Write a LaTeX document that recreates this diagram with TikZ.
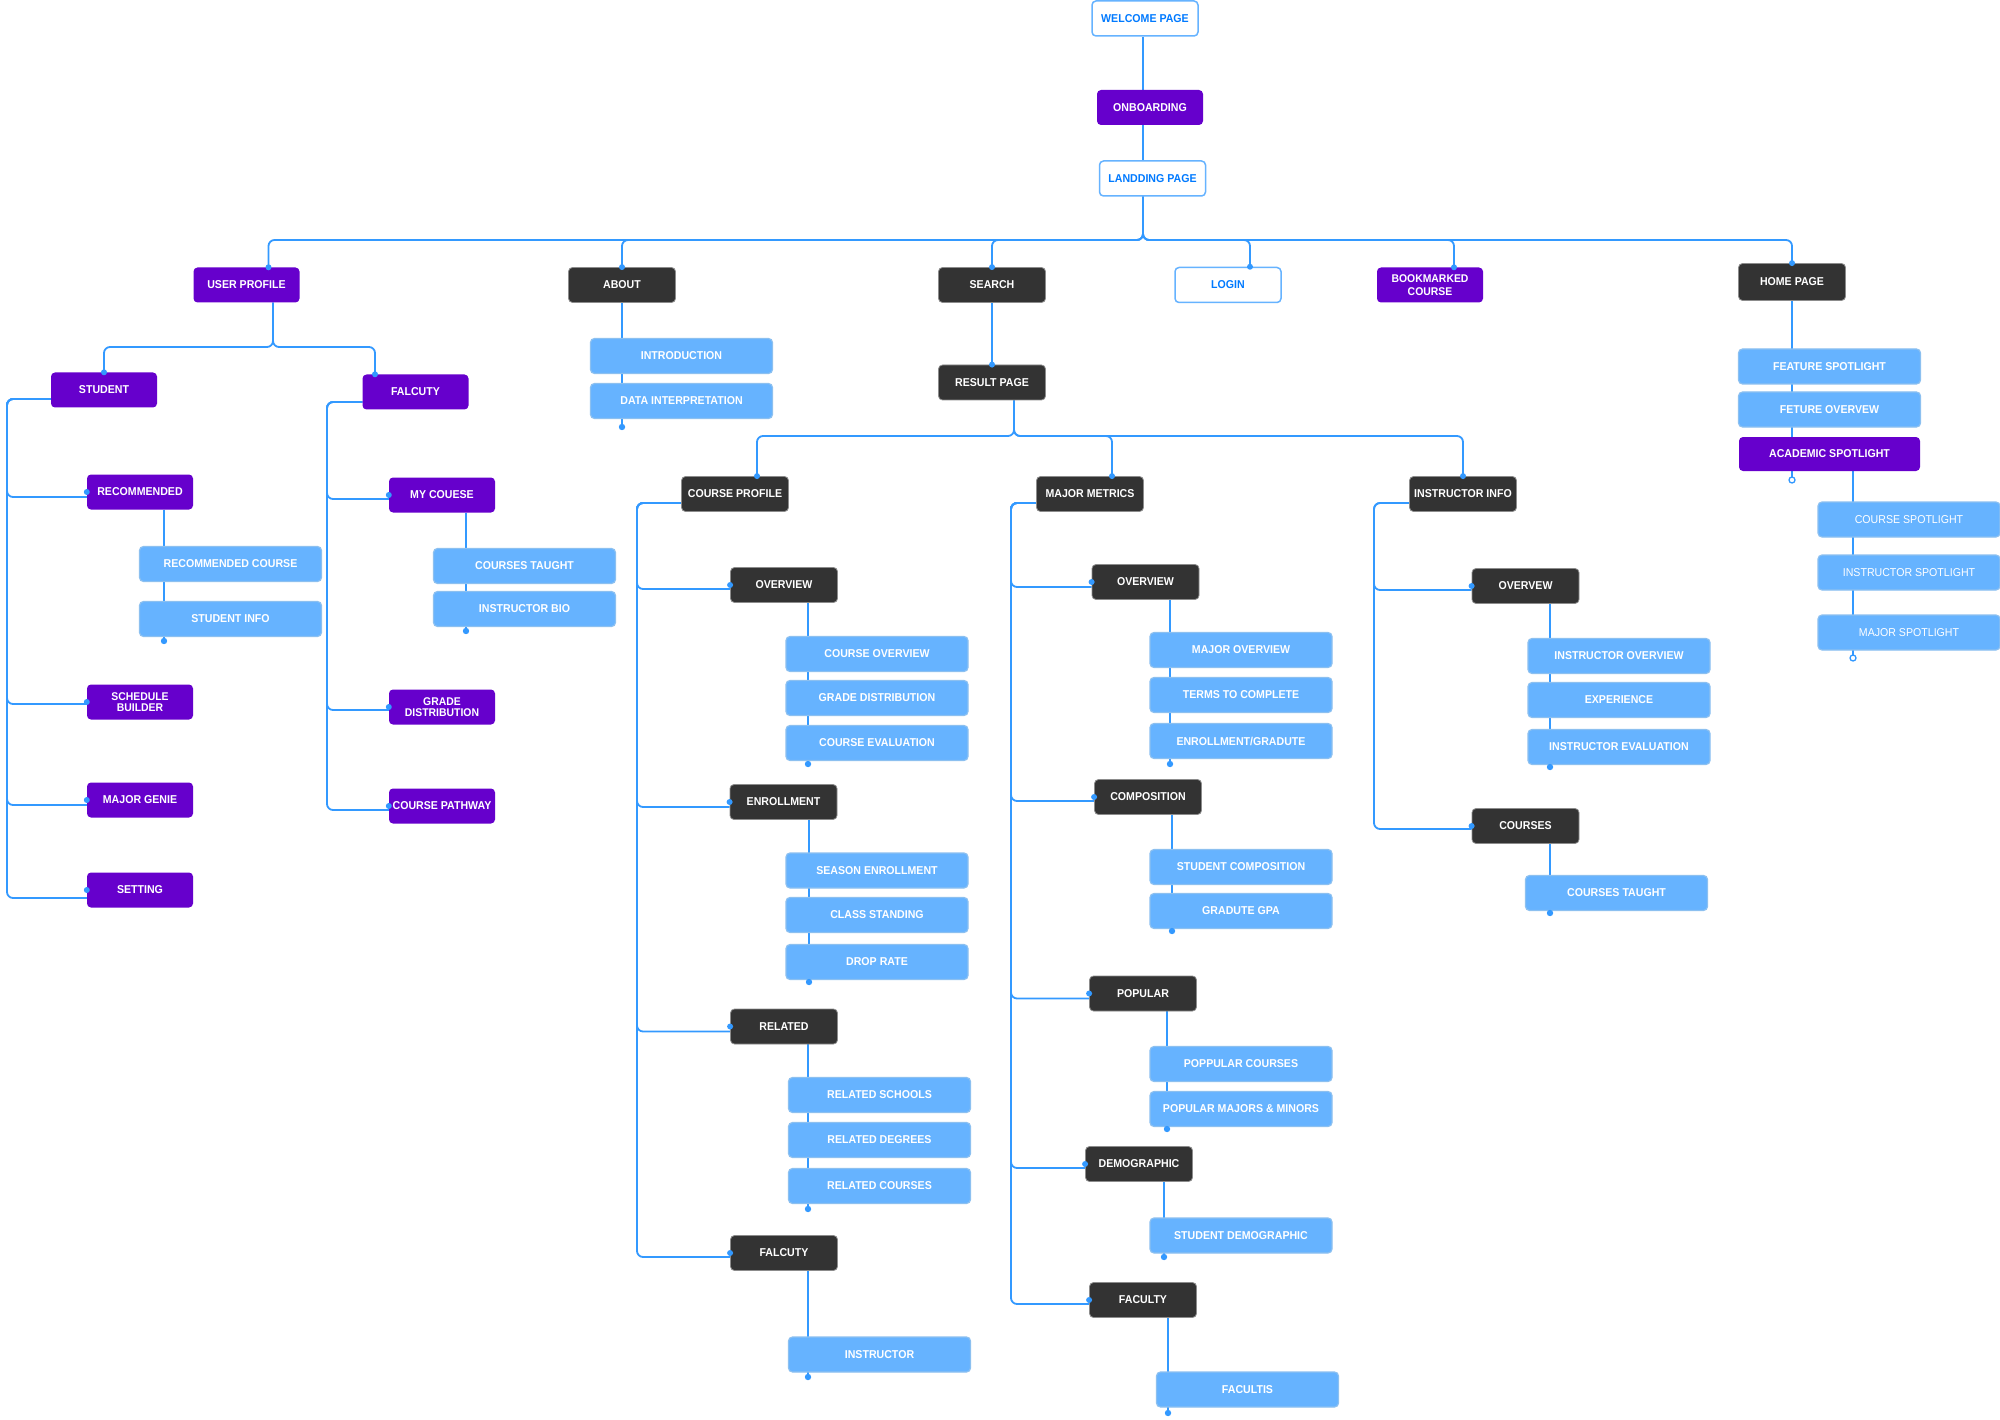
\documentclass[tikz,border=0pt]{standalone}
\usepackage{fontspec}
\setmainfont{Liberation Sans}[FakeStretch=0.93]
\usetikzlibrary{calc}
\pgfdeclarelayer{bg}
\pgfsetlayers{bg,main}
\definecolor{purp}{RGB}{102,0,204}
\definecolor{dk}{RGB}{51,51,51}
\definecolor{lbf}{RGB}{102,179,255}
\definecolor{lbd}{RGB}{140,192,240}
\definecolor{cl}{RGB}{51,153,255}
\definecolor{tb}{RGB}{0,122,255}
\begin{document}
\begin{tikzpicture}[x=1pt,y=-1pt,
 box/.style={rounded corners=4pt, minimum height=35pt, inner sep=0pt, align=center, font=\fontsize{11.4}{12}\selectfont\bfseries},
 pbox/.style={box, fill=purp, text=white, minimum width=106pt},
 dbox/.style={box, fill=dk, draw=black!45, line width=0.8pt, text=white, minimum width=107pt},
 wbox/.style={box, fill=white, draw=lbf, line width=1.5pt, text=tb, minimum width=106pt},
 lbox/.style={box, fill=lbf, draw=lbd, line width=1.2pt, text=white, minimum width=182pt},
 rbox/.style={lbox, font=\fontsize{11.4}{12}\selectfont},
 conn/.style={draw=cl, line width=1.8pt, rounded corners=6pt},
 odot/.style={draw=cl, line width=1.3pt, fill=white},
]
\path[use as bounding box] (0,0) rectangle (2000,1420);

% ---- top chain
\node[wbox] (welcome) at (1145,18.5) {WELCOME PAGE};
\node[pbox] (onboard) at (1150,107.5) {ONBOARDING};
\node[wbox] (landing) at (1152.5,178.5) {LANDDING PAGE};
\coordinate (tj) at (1143,240);

% ---- level 1
\node[pbox] (user) at (246.5,285) {USER PROFILE};
\node[dbox] (about) at (622,285) {ABOUT};
\node[dbox] (search) at (992,285) {SEARCH};
\node[wbox] (login) at (1228,285) {LOGIN};
\node[pbox, font=\fontsize{11.2}{12.5}\selectfont\bfseries] (bookm) at (1430,285) {BOOKMARKED\\COURSE};
\node[dbox, minimum height=37pt] (home) at (1792,282) {HOME PAGE};

% ---- user profile subtree
\node[pbox] (student) at (104,390) {STUDENT};
\node[pbox] (falc1) at (415.5,392) {FALCUTY};
\coordinate (uj) at (273,347);
\node[pbox] (recommended) at (140,492) {RECOMMENDED};
\node[lbox] (reccourse) at (230.5,564) {RECOMMENDED COURSE};
\node[lbox] (stuinfo) at (230.5,619) {STUDENT INFO};
\node[pbox, font=\fontsize{11.2}{11}\selectfont\bfseries] (schedule) at (140,702) {SCHEDULE\\BUILDER};
\node[pbox] (majorgenie) at (140,800) {MAJOR GENIE};
\node[pbox] (setting) at (140,890) {SETTING};
\coordinate (sr) at (7,399);
\coordinate (d1) at (164,641);

\node[pbox] (mycouese) at (442,495) {MY COUESE};
\node[lbox] (ct1) at (524.5,566) {COURSES TAUGHT};
\node[lbox] (instbio) at (524.5,609) {INSTRUCTOR BIO};
\node[pbox, font=\fontsize{11.2}{11}\selectfont\bfseries] (gradedist) at (442,707) {GRADE\\DISTRIBUTION};
\node[pbox] (pathway) at (442,806) {COURSE PATHWAY};
\coordinate (fr) at (327,402);
\coordinate (d2) at (466,631);

% ---- about subtree
\node[lbox] (intro) at (681.5,356) {INTRODUCTION};
\node[lbox] (datainterp) at (681.5,401) {DATA INTERPRETATION};
\coordinate (d3) at (622,427);

% ---- search subtree
\node[dbox] (result) at (992,382.5) {RESULT PAGE};
\coordinate (rj) at (1014,436);
\node[dbox] (courseprof) at (735,494) {COURSE PROFILE};
\node[dbox] (majormet) at (1090,494) {MAJOR METRICS};
\node[dbox] (instinfo) at (1463,494) {INSTRUCTOR INFO};

% course profile
\coordinate (cr) at (637,503);
\node[dbox] (ov1) at (784,585) {OVERVIEW};
\node[lbox] (co) at (877,654) {COURSE OVERVIEW};
\node[lbox] (gd) at (877,698) {GRADE DISTRIBUTION};
\node[lbox] (ce) at (877,743) {COURSE EVALUATION};
\coordinate (d4) at (808,764);
\node[dbox] (enroll) at (783.5,802) {ENROLLMENT};
\node[lbox] (se) at (877,870.5) {SEASON ENROLLMENT};
\node[lbox] (cs) at (877,915) {CLASS STANDING};
\node[lbox] (dr) at (877,962) {DROP RATE};
\coordinate (d5) at (809,982);
\node[dbox] (related) at (784,1026.5) {RELATED};
\node[lbox] (rs) at (879.5,1095) {RELATED SCHOOLS};
\node[lbox] (rd) at (879.5,1140) {RELATED DEGREES};
\node[lbox] (rc) at (879.5,1186) {RELATED COURSES};
\coordinate (d6) at (808,1209);
\node[dbox] (falc2) at (784,1253) {FALCUTY};
\node[lbox] (instr) at (879.5,1354.5) {INSTRUCTOR};
\coordinate (d7) at (808,1377);

% major metrics
\coordinate (mr) at (1011,503);
\node[dbox] (ov2) at (1145.5,582) {OVERVIEW};
\node[lbox] (mo) at (1241,650) {MAJOR OVERVIEW};
\node[lbox] (ttc) at (1241,695) {TERMS TO COMPLETE};
\node[lbox] (eg) at (1241,741) {ENROLLMENT/GRADUTE};
\coordinate (d8) at (1170,764);
\node[dbox] (comp) at (1148,797) {COMPOSITION};
\node[lbox] (sc) at (1241,867) {STUDENT COMPOSITION};
\node[lbox] (gg) at (1241,911) {GRADUTE GPA};
\coordinate (d9) at (1172,931);
\node[dbox] (pop) at (1143,993.5) {POPULAR};
\node[lbox] (pc) at (1241,1064) {POPPULAR COURSES};
\node[lbox] (pmm) at (1241,1109) {POPULAR MAJORS \& MINORS};
\coordinate (d10) at (1167,1129);
\node[dbox] (demo) at (1139,1164) {DEMOGRAPHIC};
\node[lbox] (sd) at (1241,1235.5) {STUDENT DEMOGRAPHIC};
\coordinate (d11) at (1164,1257);
\node[dbox] (fac) at (1143,1300) {FACULTY};
\node[lbox] (facs) at (1247.5,1389.5) {FACULTIS};
\coordinate (d12) at (1168,1413);

% instructor info
\coordinate (ir) at (1374,503);
\node[dbox] (ov3) at (1525.5,586) {OVERVEW};
\node[lbox] (io) at (1619,656) {INSTRUCTOR OVERVIEW};
\node[lbox] (exp) at (1619,700) {EXPERIENCE};
\node[lbox] (ie) at (1619,747) {INSTRUCTOR EVALUATION};
\coordinate (d13) at (1550,767);
\node[dbox] (courses) at (1525.5,826) {COURSES};
\node[lbox] (ct2) at (1616.5,893) {COURSES TAUGHT};
\coordinate (d14) at (1550,913);

% ---- home page subtree
\node[lbox] (fs) at (1829.5,366.5) {FEATURE SPOTLIGHT};
\node[lbox] (fo) at (1829.5,409.5) {FETURE OVERVEW};
\node[pbox, minimum width=181pt, minimum height=34pt] (as) at (1829.5,454) {ACADEMIC SPOTLIGHT};
\coordinate (d15) at (1792,480);
\node[rbox] (cspot) at (1909,519.5) {COURSE SPOTLIGHT};
\node[rbox] (ispot) at (1909,572.5) {INSTRUCTOR SPOTLIGHT};
\node[rbox] (mspot) at (1909,632.5) {MAJOR SPOTLIGHT};
\coordinate (d16) at (1853,658);

% ================= connectors
\begin{pgfonlayer}{bg}
\fill[white] (0,0) rectangle (2000,1420);
\draw[conn] (welcome.south -| tj) -- (onboard.north -| tj);
\draw[conn] (onboard.south -| tj) -- (landing.north -| tj);
\foreach \n/\dx in {user/22, about/0, search/0, login/22, bookm/24, home/0}
  \draw[conn] (landing.south -| tj) -- (tj) -| ($(\n.north)+(\dx,0)$);

\draw[conn] (user.south -| uj) -- (uj) -| (student.north);
\draw[conn] (user.south -| uj) -- (uj) -| ($(falc1.north)+(-40.5,0)$);
\foreach \n/\dy in {recommended/5, schedule/2, majorgenie/5, setting/8}
  \draw[conn] ($(student.west)+(0,9)$) -- (sr) |- ($(\n.west)+(0,\dy)$);
\draw[conn] (recommended.south -| d1) -- (d1);
\foreach \n/\dy in {mycouese/4, gradedist/3, pathway/4}
  \draw[conn] ($(falc1.west)+(0,10)$) -- (fr) |- ($(\n.west)+(0,\dy)$);
\draw[conn] (mycouese.south -| d2) -- (d2);

\draw[conn] (about.south -| d3) -- (d3);

\draw[conn] (search.south) -- (result.north);
\foreach \n/\dx in {courseprof/22, majormet/22, instinfo/0}
  \draw[conn] (result.south -| rj) -- (rj) -| ($(\n.north)+(\dx,0)$);

\foreach \n/\dy in {ov1/4, enroll/5, related/5, falc2/4}
  \draw[conn] ($(courseprof.west)+(0,9)$) -- (cr) |- ($(\n.west)+(0,\dy)$);
\draw[conn] (ov1.south -| d4) -- (d4);
\draw[conn] (enroll.south -| d5) -- (d5);
\draw[conn] (related.south -| d6) -- (d6);
\draw[conn] (falc2.south -| d7) -- (d7);

\foreach \n/\dy in {ov2/5, comp/4, pop/5, demo/4, fac/4}
  \draw[conn] ($(majormet.west)+(0,9)$) -- (mr) |- ($(\n.west)+(0,\dy)$);
\draw[conn] (ov2.south -| d8) -- (d8);
\draw[conn] (comp.south -| d9) -- (d9);
\draw[conn] (pop.south -| d10) -- (d10);
\draw[conn] (demo.south -| d11) -- (d11);
\draw[conn] (fac.south -| d12) -- (d12);

\foreach \n/\dy in {ov3/4, courses/3}
  \draw[conn] ($(instinfo.west)+(0,9)$) -- (ir) |- ($(\n.west)+(0,\dy)$);
\draw[conn] (ov3.south -| d13) -- (d13);
\draw[conn] (courses.south -| d14) -- (d14);

\draw[conn] (home.south -| d15) -- (d15);
\draw[conn] (as.south -| d16) -- (d16);
\end{pgfonlayer}

% ================= dots
\foreach \n/\dx in {user/22, about/0, search/0, login/22, bookm/24, home/0}
  \fill[cl] ($(\n.north)+(\dx,0)$) circle (3pt);
\fill[cl] (student.north) circle (3pt);
\fill[cl] ($(falc1.north)+(-40.5,0)$) circle (3pt);
\fill[cl] (result.north) circle (3pt);
\foreach \n/\dx in {courseprof/22, majormet/22, instinfo/0}
  \fill[cl] ($(\n.north)+(\dx,0)$) circle (3pt);
\foreach \n in {recommended, schedule, majorgenie, setting, mycouese, gradedist, pathway,
  ov1, enroll, related, falc2, ov2, comp, pop, demo, fac, ov3, courses}
  \fill[cl] (\n.west) circle (3pt);
\foreach \c in {d1,d2,d3,d4,d5,d6,d7,d8,d9,d10,d11,d12,d13,d14}
  \fill[cl] (\c) circle (3.2pt);
\draw[odot] (d15) circle (3pt);
\draw[odot] (d16) circle (3pt);
\end{tikzpicture}
\end{document}
